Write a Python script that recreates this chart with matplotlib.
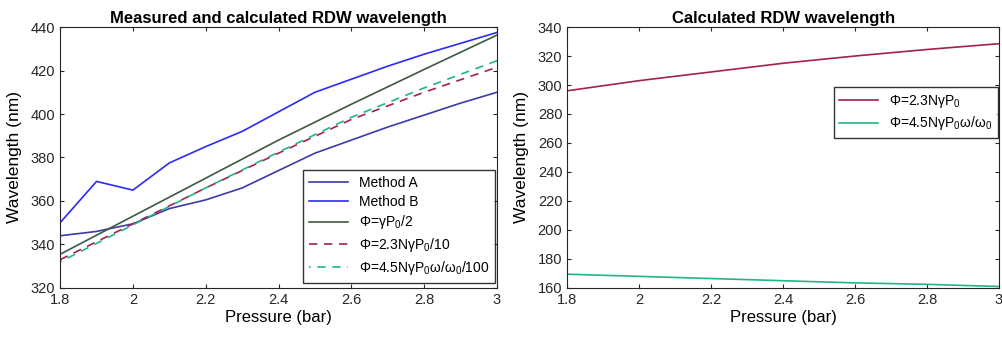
import matplotlib.pyplot as plt

plt.rcParams['font.family'] = ['Liberation Sans', 'DejaVu Sans']
plt.rcParams['mathtext.fontset'] = 'custom'
plt.rcParams['mathtext.rm'] = 'Liberation Sans'
plt.rcParams['mathtext.it'] = 'Liberation Sans'
plt.rcParams['font.size'] = 10

# datos
pressure = [1.8, 1.9, 2.0, 2.1, 2.2, 2.3, 2.4, 2.5, 2.6, 2.7, 2.8, 2.9, 3.0]
method_a = [344, 346, 349.5, 356.5, 360.5, 366, 374, 382, 388, 394, 399.5, 405, 410]
method_b = [350, 369, 365, 377.5, 385, 392, 401, 410, 416, 422, 427.5, 432.5, 437.5]

p_calc = [1.8, 2.0, 2.2, 2.4, 2.6, 2.8, 3.0]
phi_half = [335.5, 353, 370.5, 388, 404.5, 420.5, 436.3]
phi_23_10 = [333, 349.5, 366, 382, 397.5, 410, 421.5]
phi_45_100 = [332, 349, 366, 382.5, 398.5, 412, 424.5]

phi_23 = [296, 303, 309, 315, 320, 324.5, 328.5]
phi_45 = [169.5, 168, 166.5, 165, 163.5, 162.5, 161]

xticks = [1.8, 2.0, 2.2, 2.4, 2.6, 2.8, 3.0]
xlabels = ['1.8', '2', '2.2', '2.4', '2.6', '2.8', '3']

c_a = '#3b3ba8'
c_b = '#2b2bf5'
c_g = '#3c5a42'
c_r = '#a3214c'
c_t = '#22b585'

fig = plt.figure(figsize=(10.02, 3.42), dpi=100)
ax1 = fig.add_axes([0.06, 0.158, 0.436, 0.763])
ax2 = fig.add_axes([0.566, 0.158, 0.431, 0.763])

# Grafico 1
ax1.plot(pressure, method_a, color=c_a, lw=1.2, label='Method A')
ax1.plot(pressure, method_b, color=c_b, lw=1.2, label='Method B')
ax1.plot(p_calc, phi_half, color=c_g, lw=1.2, label=r'Φ=γP$_0$/2')
ax1.plot(p_calc, phi_23_10, color=c_r, lw=1.2, ls=(0, (5, 4)), label=r'Φ=2.3NγP$_0$/10')
ax1.plot(p_calc, phi_45_100, color=c_t, lw=1.2, ls=(4, (5, 4)), label=r'Φ=4.5NγP$_0$ω/ω$_0$/100')
ax1.set_xlim(1.8, 3)
ax1.set_ylim(320, 440)
ax1.set_yticks(range(320, 441, 20))
ax1.set_title('Measured and calculated RDW wavelength', fontweight='bold', fontsize=12, pad=3)
ax1.set_ylabel('Wavelength (nm)', fontsize=12.5, labelpad=6)
ax1.set_xlabel('Pressure (bar)', fontsize=12, labelpad=2)
ax1.legend(loc='lower right', bbox_to_anchor=(0.995, 0.02), frameon=True, fancybox=False,
           edgecolor='black', handlelength=2.8, borderaxespad=0, labelspacing=0.35, fontsize=10)

# Grafico 2
ax2.plot(p_calc, phi_23, color=c_r, lw=1.2, label=r'Φ=2.3NγP$_0$')
ax2.plot(p_calc, phi_45, color=c_t, lw=1.2, label=r'Φ=4.5NγP$_0$ω/ω$_0$')
ax2.set_xlim(1.8, 3)
ax2.set_ylim(160, 340)
ax2.set_yticks(range(160, 341, 20))
ax2.set_title('Calculated RDW wavelength', fontweight='bold', fontsize=12, pad=3)
ax2.set_ylabel('Wavelength (nm)', fontsize=12.5, labelpad=6)
ax2.set_xlabel('Pressure (bar)', fontsize=12, labelpad=2)
ax2.legend(loc='upper right', bbox_to_anchor=(0.998, 0.77), frameon=True, fancybox=False,
           edgecolor='black', handlelength=2.8, borderaxespad=0, labelspacing=0.35, fontsize=10)

for ax in (ax1, ax2):
    ax.set_xticks(xticks)
    ax.set_xticklabels(xlabels)
    ax.tick_params(direction='in', top=True, right=True, labelsize=10.5, length=3, color='#262626', labelcolor='#262626')
    for s in ax.spines.values():
        s.set_color('#262626')
        s.set_linewidth(0.8)

plt.savefig('out.png', dpi=100)
